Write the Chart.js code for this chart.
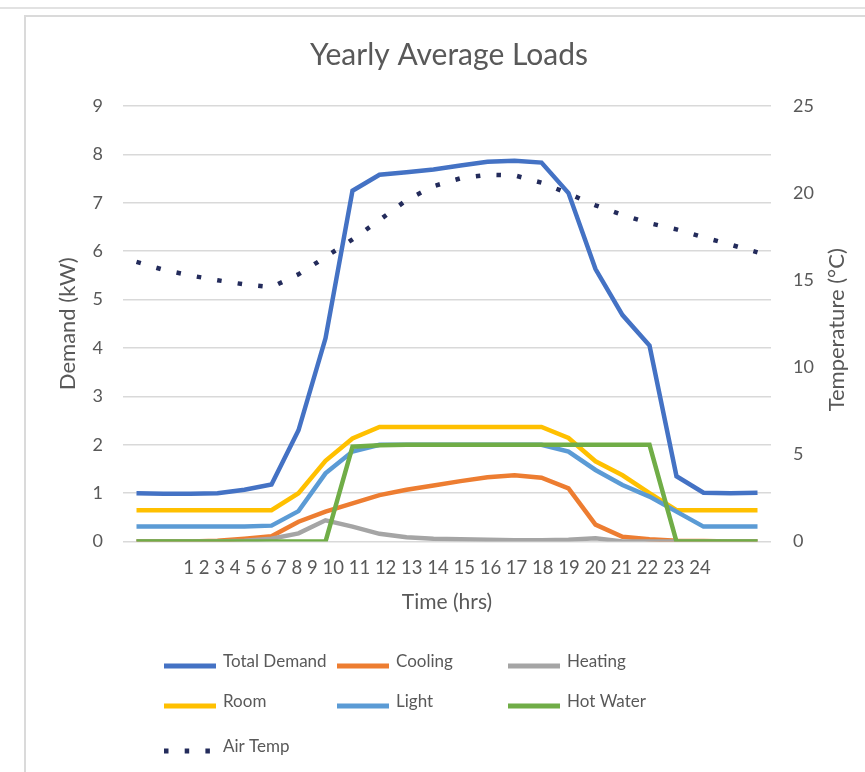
<!DOCTYPE html>
<html>
<head>
<meta charset="utf-8">
<title>Yearly Average Loads</title>
<script src="https://cdn.jsdelivr.net/npm/chart.js@4.4.1/dist/chart.umd.min.js"></script>
<style>
  html, body { margin: 0; padding: 0; background: #fff; }
  body { width: 865px; height: 772px; position: relative; overflow: hidden; }
  /* faint frame lines round the chart, as in the screenshot */
  .rule  { position: absolute; left: 0; top: 7px; width: 865px; border-top: 2px solid #e2e2e2; }
  .frame { position: absolute; left: 24px; top: 15px; right: 0; bottom: 0;
           border-top: 2px solid #dadada; border-left: 2px solid #dadada; }
  #wrap  { position: absolute; left: 0; top: 0; width: 865px; height: 772px; }
</style>
</head>
<body>
<div class="rule"></div>
<div class="frame"></div>
<div id="wrap"><canvas id="loadsChart"></canvas></div>

<script>
/* ---------- data ---------- */
const hours = ['1','2','3','4','5','6','7','8','9','10','11','12',
               '13','14','15','16','17','18','19','20','21','22','23','24'];

// demand series, kW (left axis)
const totalDemand = [1.00, 0.99, 0.99, 1.00, 1.07, 1.18, 2.30, 4.20, 7.25, 7.58, 7.63, 7.69,
                     7.77, 7.85, 7.87, 7.83, 7.20, 5.63, 4.68, 4.05, 1.35, 1.01, 1.00, 1.01];
const cooling     = [0.00, 0.00, 0.00, 0.02, 0.06, 0.11, 0.41, 0.62, 0.79, 0.96, 1.07, 1.16,
                     1.25, 1.33, 1.37, 1.32, 1.10, 0.35, 0.10, 0.05, 0.02, 0.01, 0.00, 0.00];
const heating     = [0.00, 0.00, 0.00, 0.00, 0.02, 0.06, 0.17, 0.44, 0.31, 0.16, 0.09, 0.06,
                     0.05, 0.04, 0.03, 0.03, 0.04, 0.07, 0.00, 0.00, 0.00, 0.00, 0.00, 0.00];
const room        = [0.65, 0.65, 0.65, 0.65, 0.65, 0.65, 1.00, 1.67, 2.13, 2.37, 2.37, 2.37,
                     2.37, 2.37, 2.37, 2.37, 2.14, 1.66, 1.37, 1.00, 0.65, 0.65, 0.65, 0.65];
const light       = [0.31, 0.31, 0.31, 0.31, 0.31, 0.33, 0.63, 1.41, 1.86, 2.00, 2.00, 2.00,
                     2.00, 2.00, 2.00, 2.00, 1.86, 1.48, 1.17, 0.93, 0.62, 0.31, 0.31, 0.31];
const hotWater    = [0.00, 0.00, 0.00, 0.00, 0.00, 0.00, 0.00, 0.00, 1.96, 1.99, 2.00, 2.00,
                     2.00, 2.00, 2.00, 2.00, 2.00, 2.00, 2.00, 2.00, 0.00, 0.00, 0.00, 0.00];

// air temperature, deg C (right axis)
const airTemp     = [16.05, 15.60, 15.27, 15.00, 14.76, 14.60, 15.34, 16.33, 17.35, 18.45, 19.60, 20.40,
                     20.85, 21.05, 21.02, 20.60, 19.97, 19.30, 18.75, 18.27, 17.92, 17.47, 17.04, 16.60];

// axis ticks
const demandTicks = { min: 0, max: 9, step: 1 };
const tempTicks   = { min: 0, max: 25, step: 5 };

/* ---------- look ---------- */
const FONT = 'Lato';
const GREY = '#595959';

/* legend laid out as a 3-column grid like the Excel one */
const gridLegend = {
  id: 'gridLegend',
  afterDraw(chart) {
    const ctx = chart.ctx;
    const cols = [164, 337, 508];
    const rows = [662, 702, 747];
    ctx.save();
    ctx.font = '17px ' + FONT;
    ctx.fillStyle = GREY;
    ctx.textBaseline = 'middle';
    chart.data.datasets.forEach((ds, i) => {
      const x = cols[i % 3];
      const y = rows[Math.floor(i / 3)];
      ctx.beginPath();
      ctx.strokeStyle = ds.borderColor;
      ctx.lineWidth = 5;
      ctx.lineCap = 'butt';
      ctx.setLineDash(ds.borderDash || []);
      ctx.moveTo(x, y + 4);
      ctx.lineTo(x + 52, y + 4);
      ctx.stroke();
      ctx.setLineDash([]);
      ctx.fillText(ds.label, x + 59, y);
    });
    ctx.restore();
  }
};

/* right axis title reads bottom-to-top in the reference, Chart.js turns it the other way */
const rightTitle = {
  id: 'rightTitle',
  afterDraw(chart) {
    const t = chart.scales.y1.options.title;
    const ctx = chart.ctx;
    ctx.save();
    ctx.translate(837, (chart.chartArea.top + chart.chartArea.bottom) / 2 + 6);
    ctx.rotate(-Math.PI / 2);
    ctx.font = '22px ' + FONT;
    ctx.fillStyle = GREY;
    ctx.textAlign = 'center';
    ctx.textBaseline = 'middle';
    ctx.fillText(t.text, 0, 0);
    ctx.restore();
  }
};

function line(label, data, color, order, extra) {
  return Object.assign({
    label: label,
    data: data,
    borderColor: color,
    backgroundColor: color,
    borderWidth: 4.5,
    pointRadius: 0,
    pointHoverRadius: 0,
    tension: 0,
    fill: false,
    order: order,       // later Excel series sit on top
    yAxisID: 'y'
  }, extra || {});
}

new Chart(document.getElementById('loadsChart'), {
  type: 'line',
  data: {
    labels: hours,
    datasets: [
      line('Total Demand', totalDemand, '#4472C4', 7),
      line('Cooling',      cooling,     '#ED7D31', 6),
      line('Heating',      heating,     '#A5A5A5', 5),
      line('Room',         room,        '#FFC000', 4),
      line('Light',        light,       '#5B9BD5', 3),
      line('Hot Water',    hotWater,    '#70AD47', 2),
      line('Air Temp',     airTemp,     '#232B5B', 1,
           { yAxisID: 'y1', borderDash: [4.5, 16.2], borderCapStyle: 'butt' })
    ]
  },
  options: {
    responsive: true,
    maintainAspectRatio: false,
    animation: false,
    layout: { padding: { top: 20, left: 33, right: 0, bottom: 157 } },
    plugins: {
      legend: { display: false },
      tooltip: { enabled: false },
      title: {
        display: true,
        text: 'Yearly Average Loads',
        color: GREY,
        font: { family: FONT, size: 30, weight: 'normal' },
        padding: { top: 17, bottom: 33 }
      }
    },
    scales: {
      x: {
        type: 'category',
        position: 'bottom',
        weight: 0,
        offset: true,
        grid: { display: false, drawTicks: false },
        border: { display: false },
        ticks: { display: false },
        // the hour labels sit as one crowded text row under the plot
        title: {
          display: true,
          text: hours.join(' '),
          color: GREY,
          font: { family: FONT, size: 18.5 },
          padding: { top: 15, bottom: 0 }
        }
      },
      x2: {
        type: 'category',
        position: 'bottom',
        weight: 1,
        offset: true,
        grid: { display: false, drawTicks: false },
        border: { display: false },
        ticks: { display: false },
        title: {
          display: true,
          text: 'Time (hrs)',
          color: GREY,
          font: { family: FONT, size: 21 },
          padding: { top: 11, bottom: 0 }
        }
      },
      y: {
        position: 'left',
        min: demandTicks.min,
        max: demandTicks.max,
        ticks: { stepSize: demandTicks.step, padding: 20, color: GREY, font: { family: FONT, size: 18 } },
        grid: { color: '#d9d9d9', lineWidth: 1.5, drawTicks: false },
        border: { display: false },
        title: {
          display: true,
          text: 'Demand (kW)',
          color: GREY,
          font: { family: FONT, size: 22 },
          padding: { top: 22 }
        },
        afterFit: s => { s.width = 90; }
      },
      y1: {
        position: 'right',
        min: tempTicks.min,
        max: tempTicks.max,
        ticks: { stepSize: tempTicks.step, padding: 22, color: GREY, font: { family: FONT, size: 18 } },
        grid: { drawOnChartArea: false, drawTicks: false },
        border: { display: false },
        title: { display: false, text: 'Temperature (°C)' },
        afterFit: s => { s.width = 94; }
      }
    }
  },
  plugins: [gridLegend, rightTitle]
});
</script>
</body>
</html>
